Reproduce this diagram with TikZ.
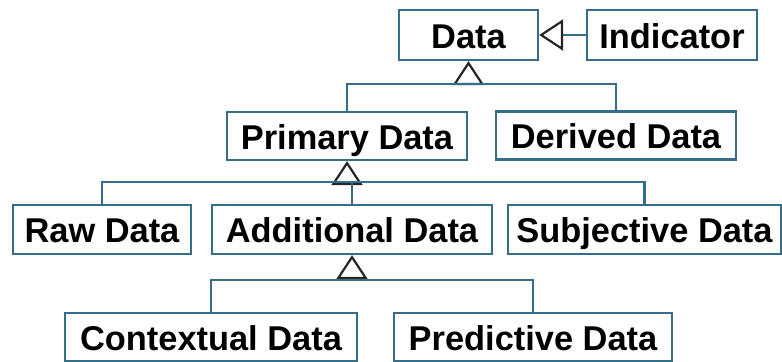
\documentclass[tikz,border=0pt]{standalone}
\usepackage{fontspec}
\setmainfont{Liberation Sans}
\usetikzlibrary{arrows.meta}
\definecolor{umlline}{RGB}{55,110,135}
\tikzset{
  cls/.style={draw=umlline, line width=1.1pt, inner sep=0pt, minimum height=24.5pt,
    text height=13.3pt, text depth=0pt,
    font=\fontsize{17.2}{20}\selectfont\bfseries},
  gen/.style={draw=umlline, line width=1.1pt,
    -{Triangle[open,length=12pt,width=15.5pt,color=black!85]}},
  link/.style={draw=umlline, line width=1.1pt}
}
\begin{document}
\begin{tikzpicture}[x=0.5pt,y=-0.5pt]
\useasboundingbox (0,0) rectangle (782,362);
% classes
\node[cls,minimum width=69.5pt,minimum height=25pt] (data) at (468.5,35) {Data};
\node[cls,minimum width=85pt,minimum height=25pt] (indicator) at (672,35) {Indicator};
\node[cls,minimum width=120pt,minimum height=24pt] (primary) at (347,136) {Primary Data};
\node[cls,minimum width=120pt,minimum height=24pt] (derived) at (616,135.5) {Derived Data};
\node[cls,minimum width=89pt] (raw) at (102,229.5) {Raw Data};
\node[cls,minimum width=140pt] (additional) at (352,229.5) {Additional Data};
\node[cls,minimum width=136.5pt] (subjective) at (644.5,229.5) {Subjective Data};
\node[cls,minimum width=146pt,minimum height=24pt] (contextual) at (211,337) {Contextual Data};
\node[cls,minimum width=139pt,minimum height=24pt] (predictive) at (533,337) {Predictive Data};
% junctions
\coordinate (j1) at (468.5,84);
\coordinate (j2) at (347,182);
\coordinate (j3) at (352,280);
% generalisations
\draw[gen] (indicator.west) -- (data.east);
\draw[gen] (j1) -- (data.south);
\draw[link] (primary.north) |- (j1) -| (derived.north);
\draw[gen] (j2) -- (primary.south);
\draw[link] (raw.north) |- (j2) -| (subjective.north);
\draw[link] (additional.north) -- (additional.north |- j2);
\draw[gen] (j3) -- (additional.south);
\draw[link] (contextual.north) |- (j3) -| (predictive.north);
\end{tikzpicture}
\end{document}
